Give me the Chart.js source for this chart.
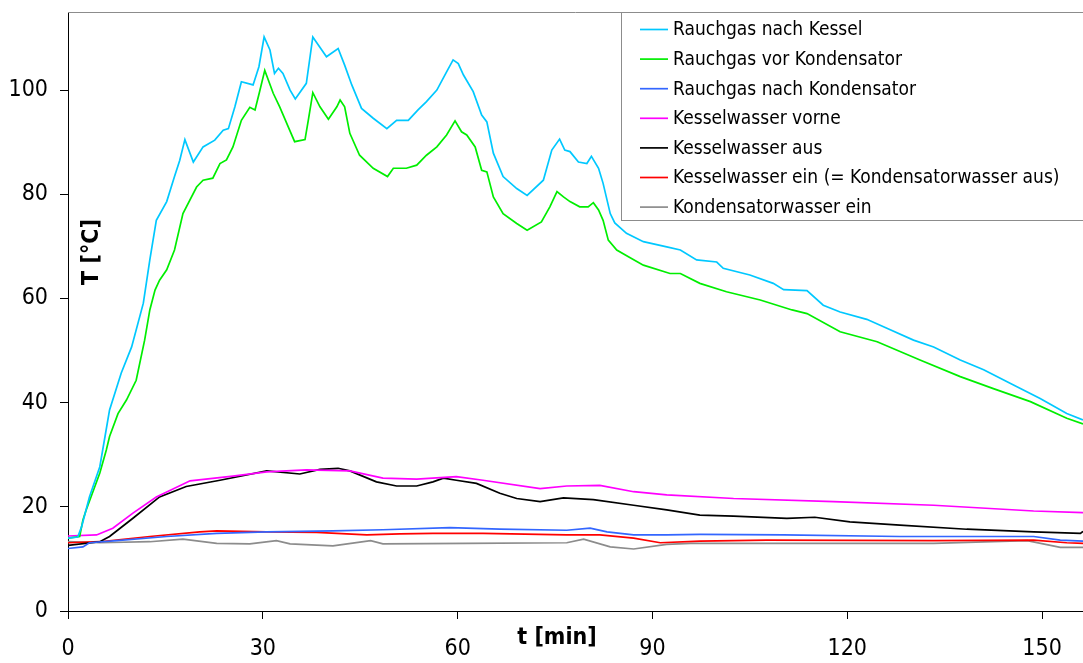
<!DOCTYPE html>
<html lang="de">
<head>
<meta charset="UTF-8">
<title>Temperaturverlauf</title>
<script src="https://cdn.jsdelivr.net/npm/chart.js"></script>
<style>
    body { margin: 0; background: #ffffff; }
    #wrap { width: 1083px; height: 663px; }
</style>
</head>
<body>
<div id="wrap"><canvas id="tempChart" width="1083" height="663"></canvas></div>
<script>
// Zeit [min] und Temperatur [°C] je Messstelle
const kesselT = [0, 1.5, 2.1, 3.3, 4.9, 5.7, 6.4, 8.2, 9.8, 11.6, 12.6, 13.6, 15.2, 16.4, 17.2, 18.0, 19.3, 20.8, 22.6, 23.9, 24.7, 25.7, 26.7, 28.5, 29.4, 30.2, 31.1, 31.8, 32.4, 33.1, 34.2, 35.0, 36.7, 37.7, 39.8, 41.6, 42.6, 43.7, 45.2, 47, 49.1, 50.6, 52.4, 53.9, 55.2, 56.8, 58.3, 59.3, 60.1, 60.9, 62.4, 63.7, 64.5, 65.5, 67, 69.1, 70.7, 73.2, 74.5, 75.7, 76.5, 77.3, 78.6, 79.9, 80.6, 81.7, 82.4, 83.5, 84.2, 86, 88.6, 92.2, 94.3, 96.8, 99.9, 100.9, 105, 108.6, 110.2, 113.8, 116.3, 118.9, 123, 126.1, 130.2, 133.3, 137.4, 141, 145.6, 149.7, 153.8, 156.3];
const kesselY = [14.0, 14.2, 16.2, 21.9, 27.7, 33.5, 38.6, 45.7, 50.7, 59.1, 67.4, 75, 78.6, 83.4, 86.5, 90.5, 86.2, 89.1, 90.4, 92.3, 92.6, 96.8, 101.6, 101, 104.5, 110.2, 107.7, 103.2, 104.2, 103.2, 100, 98.3, 101.3, 110.2, 106.4, 108, 104.8, 101, 96.5, 94.6, 92.6, 94.2, 94.2, 96.2, 97.8, 100, 103.5, 105.8, 105.1, 102.9, 99.7, 95.2, 93.9, 87.9, 83.4, 81.1, 79.8, 82.7, 88.5, 90.6, 88.5, 88.2, 86.2, 85.9, 87.3, 85, 82.1, 76.3, 74.5, 72.5, 70.9, 69.9, 69.3, 67.4, 67, 65.8, 64.5, 62.9, 61.7, 61.5, 58.7, 57.4, 56, 54.3, 52, 50.7, 48.2, 46.3, 43.4, 40.8, 37.9, 36.7];

const vorKondT = [0, 1.8, 2.3, 2.8, 4.9, 5.9, 6.4, 7.7, 9, 10.5, 11.8, 12.6, 13.4, 14.1, 15.2, 16.4, 17.7, 19.8, 20.8, 22.3, 23.4, 24.4, 25.4, 26.7, 28, 28.8, 29.5, 30.3, 31.6, 32.6, 33.9, 34.9, 36.5, 37, 37.7, 38.8, 40.1, 41.4, 41.9, 42.6, 43.4, 44.9, 47, 49.2, 50.1, 52.1, 53.7, 55.2, 56.8, 58.3, 59.6, 60.6, 61.4, 62.7, 63.7, 64.5, 65.5, 67, 69.1, 70.7, 72.9, 74.2, 75.3, 76.3, 77.3, 78.8, 80.1, 80.9, 81.7, 82.4, 83.2, 84.5, 86.3, 88.6, 92.7, 94.3, 97.3, 101.4, 106.6, 111.5, 113.8, 118.9, 124.6, 131.2, 137.4, 142.5, 148.2, 153.8, 156.3];
const vorKondY = [14.0, 14.3, 17.5, 19.4, 26.5, 30.9, 33.5, 37.9, 40.5, 44.3, 52, 57.8, 61.6, 63.5, 65.5, 69.3, 76.3, 81.4, 82.7, 83.1, 85.9, 86.6, 89.1, 94.2, 96.7, 96.2, 99.7, 103.8, 99.4, 96.8, 93, 90.1, 90.5, 94.2, 99.5, 96.8, 94.4, 96.8, 98.1, 96.8, 91.7, 87.5, 85, 83.4, 85, 85, 85.6, 87.5, 89.1, 91.4, 94.1, 92, 91.4, 89.1, 84.6, 84.3, 79.5, 76.3, 74.4, 73.1, 74.7, 77.6, 80.5, 79.5, 78.6, 77.6, 77.6, 78.4, 77, 75, 71.2, 69.3, 68, 66.4, 64.8, 64.8, 62.9, 61.3, 59.7, 57.8, 57.1, 53.6, 51.7, 48.2, 45, 42.7, 40.2, 37, 35.9];

const nachKondT = [0, 2.3, 3.3, 7.5, 15.2, 22.9, 30.6, 40.8, 48.5, 58.8, 66.5, 76.8, 80.4, 83, 87.1, 92.2, 97.3, 110.2, 128.1, 148.7, 152.8, 156.3];
const nachKondY = [12.0, 12.3, 13.1, 13.5, 14.3, 14.9, 15.2, 15.4, 15.6, 16, 15.7, 15.5, 15.9, 15.2, 14.6, 14.6, 14.7, 14.6, 14.3, 14.3, 13.6, 13.4];

const vorneT = [0, 4.4, 6.9, 10, 13.6, 18.8, 25.4, 30.6, 36.7, 43.4, 48.5, 53.7, 59.8, 63.9, 72.7, 76.8, 81.9, 87.1, 92.2, 102.5, 117.9, 133.3, 148.7, 156.3];
const vorneY = [14.4, 14.6, 15.9, 18.8, 21.9, 25, 25.9, 26.7, 27.1, 26.9, 25.5, 25.3, 25.8, 25.1, 23.5, 24, 24.1, 22.9, 22.3, 21.6, 21, 20.3, 19.2, 18.9];

const ausT = [0, 4.9, 6.4, 10, 14.1, 18.2, 23.4, 30.6, 35.7, 38.8, 41.6, 43.4, 47.5, 50.6, 53.7, 56.2, 57.8, 59.8, 62.9, 66.5, 69.1, 72.7, 76.3, 80.9, 87.1, 92.2, 97.3, 102.5, 110.7, 115, 120.4, 128.1, 138.4, 148.7, 155.9, 156.3];
const ausY = [12.6, 13.3, 14.3, 17.8, 21.9, 23.9, 25.1, 26.9, 26.3, 27.2, 27.4, 26.9, 24.8, 24, 24, 24.8, 25.5, 25.1, 24.5, 22.6, 21.6, 21, 21.7, 21.4, 20.3, 19.4, 18.4, 18.2, 17.8, 18, 17.1, 16.5, 15.7, 15.2, 14.9, 15.3];

const einT = [0, 4.9, 12.6, 20.3, 22.9, 30.6, 38.3, 46, 51.1, 56.2, 63.9, 76.8, 81.9, 87.1, 91.2, 97.3, 107.6, 133.3, 148.7, 153.8, 156.3];
const einY = [13.1, 13.3, 14.3, 15.2, 15.4, 15.2, 15.1, 14.6, 14.8, 14.9, 14.9, 14.6, 14.6, 14, 13.1, 13.4, 13.6, 13.5, 13.6, 13.1, 13.0];

const kondEinT = [0, 4.9, 12.6, 17.7, 22.9, 28, 32.1, 34.2, 40.8, 46.6, 48.5, 61.4, 76.8, 79.4, 83.5, 87.1, 92.2, 95.8, 107.6, 133.3, 147.7, 152.8, 156.3];
const kondEinY = [13.3, 13.1, 13.3, 13.8, 13, 12.9, 13.5, 12.9, 12.5, 13.5, 12.9, 13, 13.1, 13.8, 12.3, 11.9, 12.8, 13, 13, 13, 13.5, 12.2, 12.2];

const seriesNames = ['Rauchgas nach Kessel', 'Rauchgas vor Kondensator', 'Rauchgas nach Kondensator', 'Kesselwasser vorne', 'Kesselwasser aus', 'Kesselwasser ein (= Kondensatorwasser aus)', 'Kondensatorwasser ein'];
const seriesColors = ['#00c8ff', '#00ee00', '#3366ff', '#ff00ff', '#000000', '#ff0000', '#8c8c8c'];
const xTicks = [0, 30, 60, 90, 120, 150];
const yTicks = [0, 20, 40, 60, 80, 100];

const FONT = "'DejaVu Sans Condensed', 'Liberation Sans', sans-serif";

function toPoints(ts, ys) {
    return ts.map((t, i) => ({ x: t, y: ys[i] }));
}

const allSeries = [
    toPoints(kesselT, kesselY),
    toPoints(vorKondT, vorKondY),
    toPoints(nachKondT, nachKondY),
    toPoints(vorneT, vorneY),
    toPoints(ausT, ausY),
    toPoints(einT, einY),
    toPoints(kondEinT, kondEinY)
];

const datasets = allSeries.map((pts, i) => ({
    label: seriesNames[i],
    data: pts,
    borderColor: seriesColors[i],
    borderWidth: 1.7,
    pointRadius: 0,
    fill: false,
    tension: 0
}));

// Rahmen, Legende im Diagramm und Achsentitel
const overlay = {
    id: 'overlay',
    afterDatasetsDraw(chart) {
        const ctx = chart.ctx;
        const a = chart.chartArea;
        ctx.save();

        // oberer Rahmen
        ctx.strokeStyle = '#8c8c8c';
        ctx.lineWidth = 1;
        ctx.beginPath();
        ctx.moveTo(a.left, a.top + 0.5);
        ctx.lineTo(a.right, a.top + 0.5);
        ctx.stroke();

        // Legende
        const lx = 621.5, ly = a.top + 0.5, lw = 480, lh = 208;
        ctx.fillStyle = '#ffffff';
        ctx.fillRect(lx, ly, lw, lh);
        ctx.strokeStyle = '#8c8c8c';
        ctx.strokeRect(lx, ly, lw, lh);
        ctx.font = '19px ' + FONT;
        ctx.textBaseline = 'middle';
        ctx.textAlign = 'left';
        chart.data.datasets.forEach((ds, i) => {
            const y = 29.5 + i * 29.6;
            ctx.strokeStyle = ds.borderColor;
            ctx.lineWidth = 1.7;
            ctx.beginPath();
            ctx.moveTo(640, y);
            ctx.lineTo(668, y);
            ctx.stroke();
            ctx.fillStyle = '#000000';
            ctx.fillText(ds.label, 673, y + 1);
        });

        // Achsentitel
        ctx.fillStyle = '#000000';
        ctx.font = 'bold 23px ' + FONT;
        ctx.textAlign = 'center';
        ctx.save();
        ctx.translate(92, 252);
        ctx.rotate(-Math.PI / 2);
        ctx.fillText('T [°C]', 0, 0);
        ctx.restore();
        ctx.fillText('t [min]', 557, 638);

        ctx.restore();
    }
};

const ctx = document.getElementById('tempChart').getContext('2d');
new Chart(ctx, {
    type: 'line',
    data: { datasets: datasets },
    plugins: [overlay],
    options: {
        responsive: false,
        animation: false,
        layout: { padding: { top: 12, right: 0, left: 0, bottom: 0 } },
        plugins: {
            legend: { display: false },
            tooltip: { enabled: false }
        },
        scales: {
            x: {
                type: 'linear',
                min: 0,
                max: 156.3,
                afterBuildTicks: axis => { axis.ticks = xTicks.map(v => ({ value: v })); },
                afterFit: axis => { axis.height = 52; axis.paddingLeft = 0; axis.paddingRight = 0; },
                grid: { drawOnChartArea: false, drawTicks: true, tickLength: 8, tickColor: '#000000' },
                border: { color: '#000000', width: 1 },
                ticks: { color: '#000000', font: { family: FONT, size: 23 }, padding: 16, maxRotation: 0, autoSkip: false }
            },
            y: {
                min: 0,
                max: 115,
                afterBuildTicks: axis => { axis.ticks = yTicks.map(v => ({ value: v })); },
                afterFit: axis => { axis.width = 68; axis.paddingTop = 0; axis.paddingBottom = 0; },
                grid: { drawOnChartArea: false, drawTicks: true, tickLength: 8, tickColor: '#000000' },
                border: { color: '#000000', width: 1 },
                ticks: { color: '#000000', font: { family: FONT, size: 23 }, padding: 12 }
            }
        }
    }
});
</script>
</body>
</html>
